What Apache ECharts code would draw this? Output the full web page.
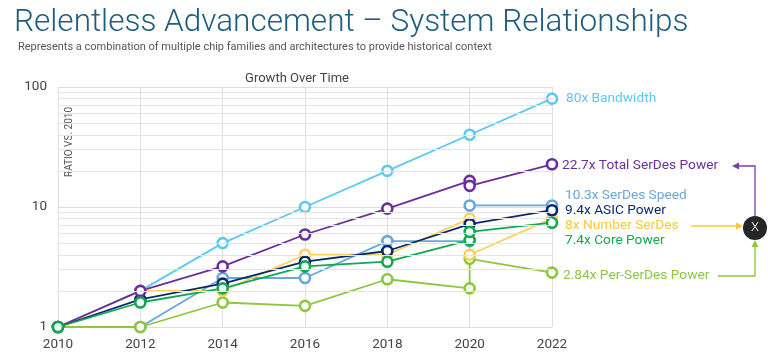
<!DOCTYPE html>
<html>
<head>
<meta charset="utf-8">
<script src="https://cdn.jsdelivr.net/npm/echarts@6/dist/echarts.min.js"></script>
<style>
  html, body { margin: 0; padding: 0; background: #fff; }
  #main { width: 768px; height: 354px; }
</style>
</head>
<body>
<div id="main"></div>
<script>
// x 轴年份（2020 年有两点的系列用重复年份表示台阶）
var years = [2010, 2012, 2014, 2016, 2018, 2020, 2022];
var yearsStep = [2010, 2012, 2014, 2016, 2018, 2020, 2020, 2022];

// 各系列数值（相对 2010）
var bandwidth = [1, 2, 5, 10, 20, 40, 80];
var totalSerdesPower = [1, 2, 3.2, 5.9, 9.7, 16.5, 15, 22.7];
var serdesSpeed = [1, 1, 2.56, 2.56, 5.2, 5.2, 10.3, 10.3];
var asicPower = [1, 1.7, 2.3, 3.5, 4.3, 7.2, 9.4];
var numberSerdes = [1, 2, 2, 4, 4, 8, 4, 8];
var corePower = [1, 1.6, 2.1, 3.2, 3.5, 5.3, 6.2, 7.4];
var perSerdesPower = [1, 1, 1.6, 1.5, 2.5, 2.1, 3.7, 2.84];

// 对数轴次网格线
var minorGrid = [2, 3, 4, 5, 6, 7, 8, 9, 20, 30, 40, 50, 60, 70, 80, 90];

// 右侧标签
var endLabels = [
  { text: "80x Bandwidth", color: "#5cc8f0", x: 566, y: 99 },
  { text: "22.7x Total SerDes Power", color: "#6b2d9b", x: 562, y: 166 },
  { text: "10.3x SerDes Speed", color: "#6aa6db", x: 565, y: 196 },
  { text: "9.4x ASIC Power", color: "#0b2a6b", x: 565, y: 211 },
  { text: "8x Number SerDes", color: "#fcc73c", x: 565, y: 226 },
  { text: "7.4x Core Power", color: "#11a84f", x: 565, y: 241 },
  { text: "2.84x Per-SerDes Power", color: "#8dc63f", x: 563, y: 276 }
];

function pairs(xs, ys) {
  return xs.map(function (x, i) { return [x, ys[i]]; });
}

function lineSeries(name, color, data) {
  return {
    name: name,
    type: "line",
    data: data,
    symbol: "circle",
    symbolSize: 10,
    showAllSymbol: true,
    lineStyle: { color: color, width: 1.8 },
    itemStyle: { color: "#fff", borderColor: color, borderWidth: 2.6 },
    emphasis: { disabled: true }
  };
}

var chartDom = document.getElementById("main");
var myChart = echarts.init(chartDom);
var font = "Roboto, 'Open Sans', sans-serif";

var graphics = [
  {
    type: "text", left: 14, top: 7,
    style: { text: "Relentless Advancement – System Relationships", fill: "#1d5d7d", font: "300 31.5px " + font }
  },
  {
    type: "text", left: 18, top: 42,
    style: { text: "Represents a combination of multiple chip families and architectures to provide historical context", fill: "#555", font: "11px " + font }
  },
  {
    type: "text", x: 297, y: 79,
    style: { text: "Growth Over Time", fill: "#444", font: "13px " + font, textAlign: "center", textVerticalAlign: "middle" }
  },
  {
    type: "text", x: 69, y: 142, rotation: Math.PI / 2,
    style: { text: "RATIO VS. 2010", fill: "#555", font: "10px " + font, textAlign: "center", textVerticalAlign: "middle" }
  },
  // 箭头
  { type: "polyline", shape: { points: [[691, 226], [738, 226]] }, style: { stroke: "#fcc73c", lineWidth: 1.3, fill: null } },
  { type: "polygon", shape: { points: [[743, 226], [736, 222.5], [736, 229.5]] }, style: { fill: "#fcc73c" } },
  { type: "polyline", shape: { points: [[718, 276], [755, 276], [755, 245]] }, style: { stroke: "#8dc63f", lineWidth: 1.3, fill: null } },
  { type: "polygon", shape: { points: [[755, 240], [751.5, 247], [758.5, 247]] }, style: { fill: "#8dc63f" } },
  { type: "polyline", shape: { points: [[755, 216], [755, 166], [737, 166]] }, style: { stroke: "#7a3fa8", lineWidth: 1.3, fill: null } },
  { type: "polygon", shape: { points: [[732, 166], [739, 162.5], [739, 169.5]] }, style: { fill: "#7a3fa8" } },
  { type: "circle", shape: { cx: 755, cy: 228, r: 12 }, style: { fill: "#262626" } },
  {
    type: "text", x: 755, y: 228,
    style: { text: "X", fill: "#fff", font: "300 13px " + font, textAlign: "center", textVerticalAlign: "middle" }
  }
];
endLabels.forEach(function (l) {
  graphics.push({
    type: "text", x: l.x, y: l.y,
    style: { text: l.text, fill: l.color, font: "13.7px " + font, textVerticalAlign: "middle" }
  });
});

var option = {
  animation: false,
  textStyle: { fontFamily: font },
  grid: { left: 58, right: 216, top: 87, bottom: 27 },
  xAxis: {
    type: "value",
    min: 2010,
    max: 2022,
    interval: 2,
    axisLine: { show: false },
    axisTick: { show: false },
    axisLabel: {
      color: "#444", fontSize: 13.5, margin: 11,
      formatter: function (v) { return String(v); }
    },
    splitLine: { show: true, lineStyle: { color: "#dedede", width: 1 } }
  },
  yAxis: {
    type: "log",
    logBase: 10,
    min: 1,
    max: 100,
    axisLine: { show: true, lineStyle: { color: "#dedede" } },
    axisTick: { show: false },
    axisLabel: { color: "#444", fontSize: 13.5, margin: 11 },
    splitLine: { show: true, lineStyle: { color: "#dedede", width: 1 } }
  },
  graphic: graphics,
  series: [
    {
      type: "line",
      data: [],
      silent: true,
      markLine: {
        silent: true,
        symbol: "none",
        label: { show: false },
        lineStyle: { color: "#e4e4e4", width: 1, type: "solid" },
        data: minorGrid.map(function (v) { return { yAxis: v }; })
      }
    },
    lineSeries("SerDes Speed", "#6aa6db", pairs(yearsStep, serdesSpeed)),
    lineSeries("Per-SerDes Power", "#8dc63f", pairs(yearsStep, perSerdesPower)),
    lineSeries("Bandwidth", "#5cc8f0", pairs(years, bandwidth)),
    lineSeries("Number SerDes", "#fcd05a", pairs(yearsStep, numberSerdes)),
    lineSeries("ASIC Power", "#0b2a6b", pairs(years, asicPower)),
    lineSeries("Total SerDes Power", "#6b2d9b", pairs(yearsStep, totalSerdesPower)),
    lineSeries("Core Power", "#11a84f", pairs(yearsStep, corePower))
  ]
};
option && myChart.setOption(option);
</script>
</body>
</html>
